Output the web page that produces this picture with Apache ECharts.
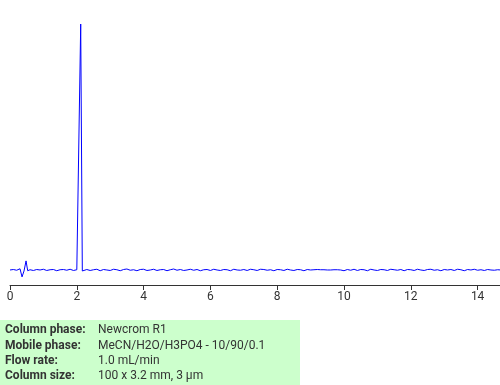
<!DOCTYPE html>
<html>
<head>
<meta charset="utf-8">
<script src="https://cdn.jsdelivr.net/npm/echarts@6/dist/echarts.min.js"></script>
<style>html,body{margin:0;padding:0;background:#fff}#c{width:500px;height:385px}</style>
</head>
<body>
<div id="c"></div>
<script>
const times = [
  0,0.1,0.2,0.3,0.36,0.42,0.48,0.53,0.6,0.7,0.8,0.9,1.0,1.1,1.2,1.3,1.4,1.5,1.6,1.7,1.8,1.9,2.0,2.03,2.117,2.165,2.2,
  2.3,2.4,2.5,2.6,2.7,2.8,2.9,3.0,3.1,3.2,
  3.3,3.4,3.5,3.6,3.7,3.8,3.9,4.0,4.1,4.2,
  4.3,4.4,4.5,4.6,4.7,4.8,4.9,5.0,5.1,5.2,
  5.3,5.4,5.5,5.6,5.7,5.8,5.9,6.0,6.1,6.2,
  6.3,6.4,6.5,6.6,6.7,6.8,6.9,7.0,7.1,7.2,
  7.3,7.4,7.5,7.6,7.7,7.8,7.9,8.0,8.1,8.2,
  8.3,8.4,8.5,8.6,8.7,8.8,8.9,9.0,9.1,9.2,
  9.3,9.4,9.5,9.6,9.7,9.8,9.9,10.0,10.1,10.2,
  10.3,10.4,10.5,10.6,10.7,10.8,10.9,11.0,11.1,11.2,
  11.3,11.4,11.5,11.6,11.7,11.8,11.9,12.0,12.1,12.2,
  12.3,12.4,12.5,12.6,12.7,12.8,12.9,13.0,13.1,13.2,
  13.3,13.4,13.5,13.6,13.7,13.8,13.9,14.0,14.1,14.2,
  14.3,14.4,14.5,14.6,14.7
];
const signal = [
  0,0.2,-0.1,0.5,-2.8,-0.4,3.7,-0.3,0.1,-0.2,0.2,0,0.3,-0.2,0.1,0.2,-0.3,0.1,0.2,-0.1,0.3,-0.2,0.1,0.6,100,-0.4,0.1,
  0.2,-0.2,0.1,0.3,-0.3,0.2,0,-0.2,0.3,0.1,
  -0.3,0.2,0.4,-0.1,0.1,-0.3,0.2,0.3,-0.2,0,
  0.3,-0.2,0.1,0.2,-0.3,0.1,0.4,-0.1,0.2,-0.2,
  0,0.3,-0.1,0.2,-0.3,0.1,0.2,-0.2,0.3,0,
  -0.2,0.2,0.1,-0.3,0.3,0,-0.1,0.2,-0.2,0.3,
  0.1,-0.2,0.3,0.2,-0.1,0.1,-0.3,0.2,0.1,-0.2,
  0.3,0,-0.2,0.2,0.1,-0.3,0.2,0,0.1,0.2,
  0.1,0.1,0,0,0.1,0.1,0,-0.3,0.2,-0.1,
  0.3,-0.2,0.2,0.1,-0.3,0.3,0,-0.2,0.2,0.1,
  -0.2,0.3,0.1,-0.1,0.2,-0.3,0.2,0.1,-0.2,0.3,
  0,-0.2,0.2,0.3,-0.1,0.1,-0.3,0.2,0,0.2,
  -0.2,0.3,0.1,-0.3,0.2,0,0.3,-0.1,0.1,-0.2,
  0.2,0,-0.1,0.1,0
];
const infoLabels = ['Column phase:', 'Mobile phase:', 'Flow rate:', 'Column size:'];
const infoValues = ['Newcrom R1', 'MeCN/H2O/H3PO4 - 10/90/0.1', '1.0 mL/min', '100 x 3.2 mm, 3 µm'];

const data = times.map((t, i) => [t, signal[i]]);
const rowY = [330, 346, 361, 376];
const graphics = [{ type: 'rect', shape: { x: 0, y: 320, width: 300, height: 65 }, style: { fill: '#ccffcc' }, z: 0 }];
infoLabels.forEach((s, i) => {
  graphics.push({ type: 'text', x: 5, y: rowY[i], style: { text: s, font: 'bold 12px Roboto', fill: '#333', textVerticalAlign: 'middle' }, z: 1 });
  graphics.push({ type: 'text', x: 98, y: rowY[i], style: { text: infoValues[i], font: '12px Roboto', fill: '#333', textVerticalAlign: 'middle' }, z: 1 });
});

const chart = echarts.init(document.getElementById('c'), null, { renderer: 'canvas' });
chart.setOption({
  animation: false,
  grid: { left: 10, right: 0, top: 10, bottom: 100 },
  xAxis: {
    type: 'value', min: 0, max: 14.67, interval: 2,
    axisLine: { onZero: false, lineStyle: { color: '#333' } },
    axisTick: { length: 5, lineStyle: { color: '#333' } },
    axisLabel: { color: '#333', fontSize: 12, fontFamily: 'Roboto', showMaxLabel: false, margin: 6 },
    splitLine: { show: false }
  },
  yAxis: { type: 'value', min: -6.1, max: 105.7, show: false, splitLine: { show: false } },
  series: [{ type: 'line', data: data, showSymbol: false, clip: true, lineStyle: { color: '#0000ff', width: 1 }, itemStyle: { color: '#0000ff' } }],
  graphic: graphics
});
</script>
</body>
</html>
